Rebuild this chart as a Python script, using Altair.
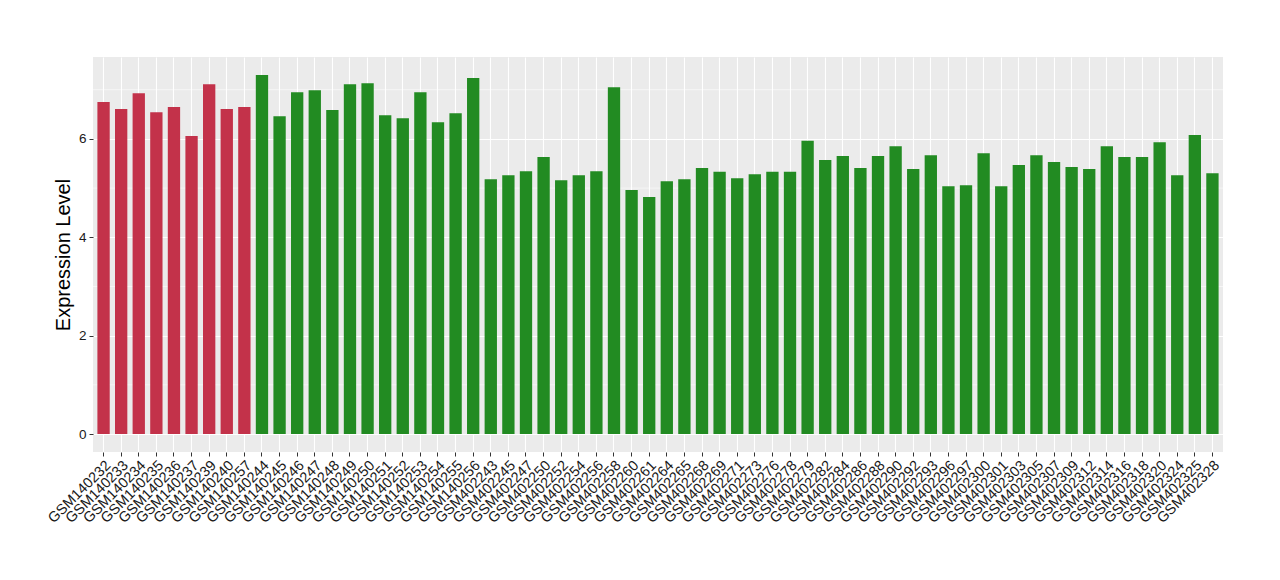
import altair as alt
import pandas as pd

samples = [
    "GSM140232", "GSM140233", "GSM140234", "GSM140235", "GSM140236", "GSM140237",
    "GSM140239", "GSM140240", "GSM140257",
    "GSM140244", "GSM140245", "GSM140246", "GSM140247", "GSM140248", "GSM140249",
    "GSM140250", "GSM140251", "GSM140252", "GSM140253", "GSM140254", "GSM140255",
    "GSM140256",
    "GSM402243", "GSM402245", "GSM402247", "GSM402250", "GSM402252", "GSM402254",
    "GSM402256", "GSM402258", "GSM402260", "GSM402261", "GSM402264", "GSM402265",
    "GSM402268", "GSM402269", "GSM402271", "GSM402273", "GSM402276", "GSM402278",
    "GSM402279", "GSM402282", "GSM402284", "GSM402286", "GSM402288", "GSM402290",
    "GSM402292", "GSM402293", "GSM402296", "GSM402297", "GSM402300", "GSM402301",
    "GSM402303", "GSM402305", "GSM402307", "GSM402309", "GSM402312", "GSM402314",
    "GSM402316", "GSM402318", "GSM402320", "GSM402324", "GSM402325", "GSM402328",
]
values = [
    6.75, 6.61, 6.93, 6.54, 6.65, 6.06, 7.11, 6.61, 6.65,
    7.30, 6.46, 6.95, 6.99, 6.59, 7.11, 7.13, 6.48, 6.42, 6.95, 6.34, 6.52, 7.24,
    5.18, 5.26, 5.34, 5.63, 5.16, 5.26, 5.34, 7.05, 4.96, 4.82, 5.14, 5.18,
    5.41, 5.33, 5.20, 5.28, 5.33, 5.33, 5.96, 5.57, 5.65, 5.41, 5.65, 5.85,
    5.39, 5.67, 5.04, 5.06, 5.71, 5.04, 5.47, 5.67, 5.53, 5.43, 5.39, 5.85,
    5.63, 5.63, 5.93, 5.26, 6.08, 5.30,
]
groups = ["A"] * 9 + ["B"] * 55
group_names = ["A", "B"]
group_colors = ["#C3324A", "#228B22"]
minor_y = [1, 3, 5, 7]

df = pd.DataFrame({"sample": samples, "value": values, "group": groups})
minor_df = pd.DataFrame({"y": minor_y})

ydomain = [-0.365, 7.665]

xenc = alt.X(
    "sample:N",
    sort=samples,
    title=None,
    scale=alt.Scale(paddingInner=0.3, paddingOuter=0.25),
    axis=alt.Axis(
        labelAngle=-45,
        labelAlign="right",
        labelBaseline="top",
        labelFont="Liberation Sans",
        labelFontSize=14.5,
        labelColor="#1a1a1a",
        labelPadding=2,
        tickColor="#333333",
        tickSize=4,
        domain=False,
        grid=True,
        gridColor="white",
        gridWidth=1.1,
        bandPosition=0.5,
    ),
)

minor = alt.Chart(minor_df).mark_rule(color="white", strokeWidth=0.55).encode(
    y=alt.Y("y:Q", scale=alt.Scale(domain=ydomain, nice=False, zero=False))
)

bars = alt.Chart(df).mark_bar().encode(
    x=xenc,
    y=alt.Y(
        "value:Q",
        title="Expression Level",
        scale=alt.Scale(domain=ydomain, nice=False, zero=False),
        axis=alt.Axis(
            values=[0, 2, 4, 6],
            labelFont="Liberation Sans",
            labelFontSize=13.5,
            labelColor="#1a1a1a",
            labelPadding=3,
            tickColor="#333333",
            tickSize=4,
            domain=False,
            grid=True,
            gridColor="white",
            gridWidth=1.1,
            titleFont="Liberation Sans",
            titleFontSize=20,
            titleFontWeight="normal",
            titleColor="black",
            titlePadding=5,
        ),
    ),
    y2=alt.datum(0),
    color=alt.Color(
        "group:N",
        scale=alt.Scale(domain=group_names, range=group_colors),
        legend=None,
    ),
)

chart = (
    alt.layer(minor, bars)
    .properties(
        width=1130,
        height=395,
        autosize=alt.AutoSizeParams(type="none"),
        padding={"left": 85, "top": 49, "right": 40, "bottom": 110},
    )
    .configure_view(fill="#EBEBEB", stroke=None)
)

chart.save("out.html", embed_options={"renderer": "svg", "actions": False})
